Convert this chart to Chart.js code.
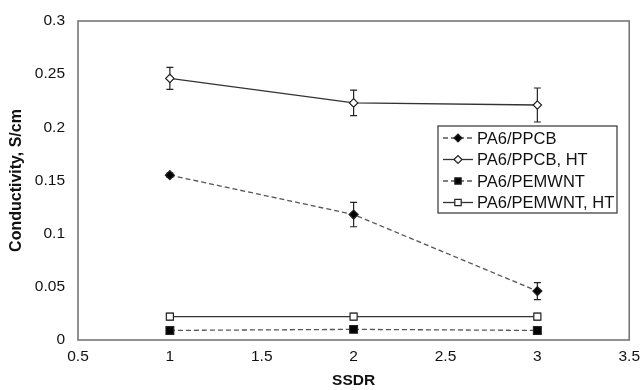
<!DOCTYPE html>
<html><head><meta charset="utf-8">
<script src="https://cdn.jsdelivr.net/npm/chart.js@4/dist/chart.umd.min.js"></script>
<style>html,body{margin:0;padding:0;background:#fff}#wrap{width:644px;height:390px}</style>
</head><body><div id="wrap"><canvas id="c" width="644" height="390"></canvas></div>
<script>
const ssdr = [1, 2, 3];
const ppcb = [0.155, 0.118, 0.046];
const ppcbErr = [0.002, 0.0115, 0.008];
const ppcbHT = [0.246, 0.223, 0.221];
const ppcbHTErr = [0.0103, 0.012, 0.016];
const pemwnt = [0.009, 0.010, 0.009];
const pemwntErr = [0.002, 0.002, 0.002];
const pemwntHT = [0.022, 0.022, 0.022];
const pemwntHTErr = [0.003, 0.003, 0.003];
const xTicks = [0.5, 1, 1.5, 2, 2.5, 3, 3.5];
const yTicks = [0, 0.05, 0.1, 0.15, 0.2, 0.25, 0.3];
const seriesNames = ['PA6/PPCB', 'PA6/PPCB, HT', 'PA6/PEMWNT', 'PA6/PEMWNT, HT'];

const pts = (ys) => ssdr.map((x, i) => ({x, y: ys[i]}));
const FONT = "'Liberation Sans', Arial, sans-serif";

function ds(label, ys, errs, dashed, style, filled, r) {
  return {
    label, data: pts(ys), errors: errs, showLine: true,
    borderColor: dashed ? '#555' : '#333', borderWidth: 1.3,
    borderDash: dashed ? [5, 3] : [],
    pointStyle: style, pointRadius: r, pointHoverRadius: r,
    pointBackgroundColor: filled ? '#000' : '#fff',
    pointBorderColor: '#222', pointBorderWidth: 1.2,
    tension: 0, fill: false
  };
}

const errorBars = {
  id: 'errorBars',
  beforeDatasetsDraw(chart) {
    const {ctx, scales: {x, y}} = chart;
    ctx.save();
    ctx.strokeStyle = '#222'; ctx.lineWidth = 1.2; ctx.setLineDash([]);
    chart.data.datasets.forEach(d => {
      d.data.forEach((p, i) => {
        const e = d.errors[i];
        const px = x.getPixelForValue(p.x);
        const y1 = y.getPixelForValue(p.y + e), y2 = y.getPixelForValue(p.y - e);
        ctx.beginPath();
        ctx.moveTo(px, y1); ctx.lineTo(px, y2);
        ctx.moveTo(px - 3.5, y1); ctx.lineTo(px + 3.5, y1);
        ctx.moveTo(px - 3.5, y2); ctx.lineTo(px + 3.5, y2);
        ctx.stroke();
      });
    });
    ctx.restore();
  }
};

const frame = {
  id: 'frame',
  afterDraw(chart) {
    const {ctx, chartArea: a} = chart;
    ctx.save();
    ctx.strokeStyle = '#777'; ctx.lineWidth = 1.6;
    ctx.strokeRect(a.left, a.top, a.right - a.left, a.bottom - a.top);
    ctx.restore();
  }
};

const legendBox = {
  id: 'legendBox',
  afterDraw(chart) {
    const {ctx} = chart;
    const bx = 438, by = 126, bw = 179, bh = 87;
    ctx.save();
    ctx.fillStyle = '#fff'; ctx.fillRect(bx, by, bw, bh);
    ctx.strokeStyle = '#333'; ctx.lineWidth = 1.2; ctx.setLineDash([]);
    ctx.strokeRect(bx, by, bw, bh);
    chart.data.datasets.forEach((d, i) => {
      const cy = by + 12 + i * 21.5;
      ctx.strokeStyle = d.borderColor; ctx.lineWidth = 1.3;
      ctx.setLineDash(d.borderDash);
      ctx.beginPath(); ctx.moveTo(bx + 5, cy); ctx.lineTo(bx + 35, cy); ctx.stroke();
      ctx.setLineDash([]);
      ctx.fillStyle = d.pointBackgroundColor; ctx.strokeStyle = d.pointBorderColor; ctx.lineWidth = 1.2;
      Chart.helpers.drawPoint(ctx, {pointStyle: d.pointStyle, radius: d.pointStyle === 'rect' ? 4.5 : 4, borderWidth: 1.2}, bx + 20, cy);
      ctx.fillStyle = '#111'; ctx.font = '16.5px ' + FONT; ctx.textBaseline = 'middle';
      ctx.fillText(d.label, bx + 39, cy + 1);
    });
    ctx.restore();
  }
};

new Chart(document.getElementById('c'), {
  type: 'scatter',
  data: {
    datasets: [
      ds(seriesNames[0], ppcb, ppcbErr, true, 'rectRot', true, 4.5),
      ds(seriesNames[1], ppcbHT, ppcbHTErr, false, 'rectRot', false, 4.2),
      ds(seriesNames[2], pemwnt, pemwntErr, true, 'rect', true, 5.5),
      ds(seriesNames[3], pemwntHT, pemwntHTErr, false, 'rect', false, 5)
    ]
  },
  options: {
    responsive: false, animation: false, devicePixelRatio: 1,
    layout: {padding: {left: 0, right: 13, top: 21, bottom: 0}},
    plugins: {legend: {display: false}, tooltip: {enabled: false}},
    scales: {
      x: {
        type: 'linear', min: 0.5, max: 3.5,
        afterBuildTicks: s => { s.ticks = xTicks.map(v => ({value: v})); },
        afterFit: s => { s.height = 50; },
        grid: {display: false, drawOnChartArea: false, drawTicks: true, tickLength: 3, color: '#bbb'},
        border: {display: false},
        ticks: {color: '#111', font: {family: FONT, size: 15.5}, padding: 4, maxRotation: 0, callback: v => String(v)},
        title: {display: true, text: 'SSDR', color: '#111', font: {family: FONT, size: 15.5, weight: 'bold'}, padding: {top: 4, bottom: 0}}
      },
      y: {
        min: 0, max: 0.3,
        afterBuildTicks: s => { s.ticks = yTicks.map(v => ({value: v})); },
        afterFit: s => { s.width = 78; },
        grid: {display: false, drawOnChartArea: false, drawTicks: true, tickLength: 3, color: '#bbb'},
        border: {display: false},
        ticks: {color: '#111', font: {family: FONT, size: 15.5}, padding: 10, callback: v => String(v)},
        title: {display: true, text: 'Conductivity, S/cm', color: '#111', font: {family: FONT, size: 16, weight: 'bold'}, padding: {top: 7, bottom: 0}}
      }
    }
  },
  plugins: [errorBars, frame, legendBox]
});
</script></body></html>
